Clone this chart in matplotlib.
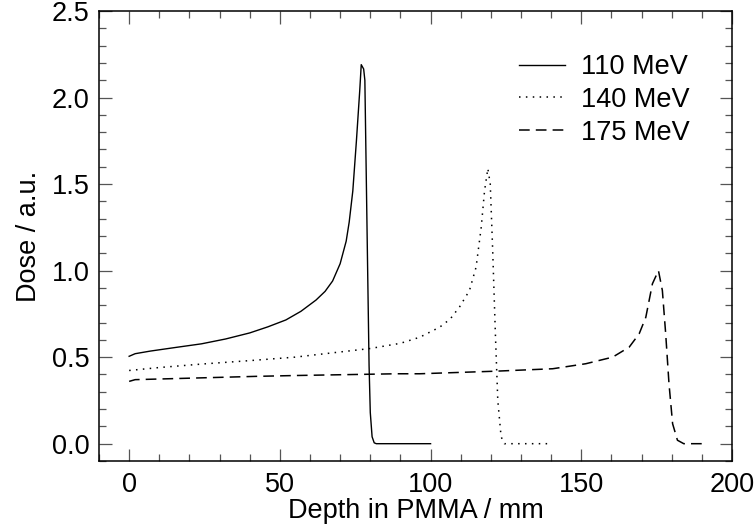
import matplotlib
matplotlib.use("Agg")
import matplotlib.pyplot as plt
from matplotlib.ticker import MultipleLocator

plt.rcParams['font.family'] = ['Liberation Sans', 'DejaVu Sans']

# 110 MeV (solid)
x110 = [0, 2, 7, 15, 24, 32, 40, 46, 52, 57, 62, 65, 67.5, 70, 72, 73, 74.2, 75.4,
        76.5, 77.0, 77.8, 78.2, 79.0, 79.6, 80.0, 80.6, 81.3, 82, 100]
y110 = [0.505, 0.52, 0.535, 0.555, 0.577, 0.605, 0.64, 0.675, 0.715, 0.765, 0.83, 0.88,
        0.94, 1.04, 1.17, 1.28, 1.46, 1.75, 2.04, 2.19, 2.165, 2.10, 1.15, 0.45,
        0.18, 0.04, 0.005, 0.0, 0.0]

# 140 MeV (dotted)
x140 = [0, 10, 24, 40, 55, 70, 80, 90, 96.4, 103, 106.5, 109.6, 112.9, 115.1, 116.8,
        117.9, 119.0, 119.8, 120.6, 121.5, 122.3, 123.4, 124.5, 140]
y140 = [0.423, 0.44, 0.46, 0.48, 0.50, 0.53, 0.55, 0.58, 0.615, 0.673, 0.72, 0.79,
        0.885, 1.02, 1.25, 1.46, 1.59, 1.50, 1.12, 0.635, 0.25, 0.04, 0.0, 0.0]

# 175 MeV (dashed)
x175 = [0, 2, 12.7, 42, 55.5, 88.7, 96.4, 121.7, 140.5, 151.5, 160.4, 165.9, 169.2,
        171.4, 173.6, 175.6, 176.9, 178.0, 179.1, 180.3, 181.9, 184, 190]
y175 = [0.36, 0.37, 0.375, 0.389, 0.394, 0.404, 0.404, 0.419, 0.433, 0.462, 0.50,
        0.558, 0.635, 0.73, 0.924, 1.00, 0.885, 0.635, 0.346, 0.115, 0.02, 0.0, 0.0]

labels = ["110 MeV", "140 MeV", "175 MeV"]

FS = 19.5

fig = plt.figure(figsize=(7.56, 5.28), dpi=100)
ax = fig.add_axes([99/756, 1 - 461/528, (732-99)/756, (461-11)/528])

ax.plot(x110, y110, color='black', lw=1.0, ls='-', label=labels[0])
ax.plot(x140, y140, color='black', lw=1.1, ls=(0, (1, 3.5)), label=labels[1])
ax.plot(x175, y175, color='black', lw=1.1, ls=(0, (7, 4)), label=labels[2])

ax.set_xlim(-10, 200)
ax.set_ylim(-0.1, 2.5)
ax.xaxis.set_major_locator(MultipleLocator(50))
ax.xaxis.set_minor_locator(MultipleLocator(10))
ax.yaxis.set_major_locator(MultipleLocator(0.5))
ax.yaxis.set_minor_locator(MultipleLocator(0.1))
ax.yaxis.set_major_formatter(plt.FuncFormatter(lambda v, p: f"{v:.1f}"))

ax.tick_params(which='both', direction='in', top=True, right=True,
               labelsize=FS, color='#555555', width=0.9)
ax.tick_params(which='major', length=9)
ax.tick_params(which='minor', length=5)
ax.tick_params(axis='x', which='major', pad=8)
ax.tick_params(axis='y', which='major', pad=7)
for s in ax.spines.values():
    s.set_linewidth(1.1)

ax.set_xlabel("Depth in PMMA / mm", fontsize=FS, labelpad=0)
ax.set_ylabel("Dose / a.u.", fontsize=FS, labelpad=7)

leg = ax.legend(frameon=False, loc='upper left',
                bbox_to_anchor=(519/756, 1 - 54/528), bbox_transform=fig.transFigure,
                fontsize=FS, handlelength=1.7, handletextpad=0.6,
                labelspacing=0.25, borderpad=0, borderaxespad=0)

fig.savefig("out.png", dpi=100)
